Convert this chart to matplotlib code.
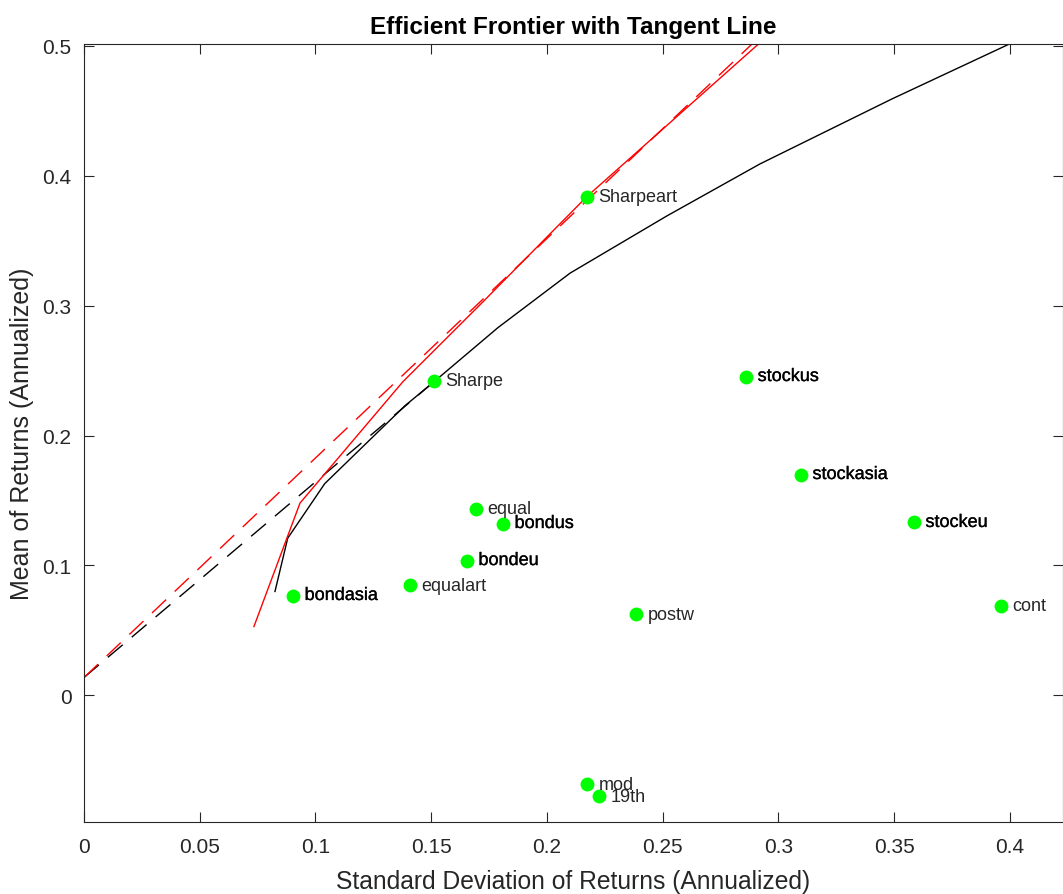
import matplotlib
matplotlib.use("Agg")
import matplotlib.pyplot as plt
import matplotlib.patheffects as pe
from matplotlib.ticker import FuncFormatter

plt.rcParams['font.family'] = ['Liberation Sans', 'DejaVu Sans']

# Efficient frontier (black) and frontier including art (red)
frontier_x = [0.0825, 0.0880, 0.1040, 0.1387, 0.1516, 0.1788, 0.2100, 0.2518, 0.2920, 0.3490, 0.4000]
frontier_y = [0.0800, 0.1210, 0.1630, 0.2230, 0.2420, 0.2830, 0.3250, 0.3690, 0.4090, 0.4590, 0.5015]
art_x = [0.0734, 0.0933, 0.1378, 0.1724, 0.2173, 0.2915]
art_y = [0.0530, 0.1480, 0.2415, 0.3030, 0.3840, 0.5015]

# Tangent lines from the risk-free rate
tangent_x = [0.0, 0.1516]
tangent_y = [0.0138, 0.2420]
tangent_art_x = [0.0, 0.2890]
tangent_art_y = [0.0138, 0.5020]

# Portfolios and assets
names = ['Sharpeart', 'Sharpe', 'stockus', 'stockasia', 'stockeu', 'cont', 'equal',
         'bondus', 'bondeu', 'equalart', 'bondasia', 'postw', 'mod', '19th']
sd = [0.2173, 0.1512, 0.2860, 0.3097, 0.3585, 0.3961, 0.1693,
      0.1810, 0.1654, 0.1408, 0.0903, 0.2384, 0.2173, 0.2225]
mu = [0.3838, 0.2423, 0.2454, 0.1700, 0.1331, 0.0692, 0.1438,
      0.1323, 0.1038, 0.0846, 0.0769, 0.0623, -0.0685, -0.0777]
assets = ['stockus', 'stockasia', 'stockeu', 'bondus', 'bondeu', 'bondasia']

fig = plt.figure(figsize=(10.63, 8.95), dpi=100)
ax = fig.add_axes([84 / 1063, 1 - 823 / 895, (1062.5 - 84) / 1063, (823 - 45) / 895])

ax.plot(tangent_x, tangent_y, color='black', lw=1.0, dashes=(14, 8.5))
ax.plot(tangent_art_x, tangent_art_y, color='red', lw=1.0, dashes=(14, 8.5))
ax.plot(frontier_x, frontier_y, color='black', lw=1.0)
ax.plot(art_x, art_y, color='red', lw=1.0)

ax.plot(sd, mu, 'o', color='#00ff00', markersize=10, markeredgewidth=0)
for name, x, y in zip(names, sd, mu):
    if name in assets:
        ax.text(x + 0.005, y, name, fontsize=13, color='black', va='center',
                path_effects=[pe.withStroke(linewidth=0.2, foreground='black')])
    else:
        ax.text(x + 0.005, y, name, fontsize=13, color='#262626', va='center')

ax.set_xlim(0, 0.4227)
ax.set_ylim(-0.0974, 0.5013)
ax.set_xticks([0, 0.05, 0.1, 0.15, 0.2, 0.25, 0.3, 0.35, 0.4])
ax.set_yticks([0, 0.1, 0.2, 0.3, 0.4, 0.5])
ax.xaxis.set_major_formatter(FuncFormatter(lambda v, p: '%g' % round(v, 3)))
ax.yaxis.set_major_formatter(FuncFormatter(lambda v, p: '%g' % round(v, 3)))
ax.tick_params(direction='in', length=7, width=0.8, colors='#262626', labelsize=15,
               top=True, right=True)
ax.tick_params(axis='x', pad=11)
ax.tick_params(axis='y', pad=9)
for s in ax.spines.values():
    s.set_color('#262626')
    s.set_linewidth(0.8)

ax.set_xlabel('Standard Deviation of Returns (Annualized)', fontsize=17.7, color='#262626',
              labelpad=9)
ax.set_ylabel('Mean of Returns (Annualized)', fontsize=18, color='#262626', labelpad=6)
ax.set_title('Efficient Frontier with Tangent Line', fontsize=17.5, fontweight='bold', pad=8)

fig.savefig('out.png', dpi=100)
